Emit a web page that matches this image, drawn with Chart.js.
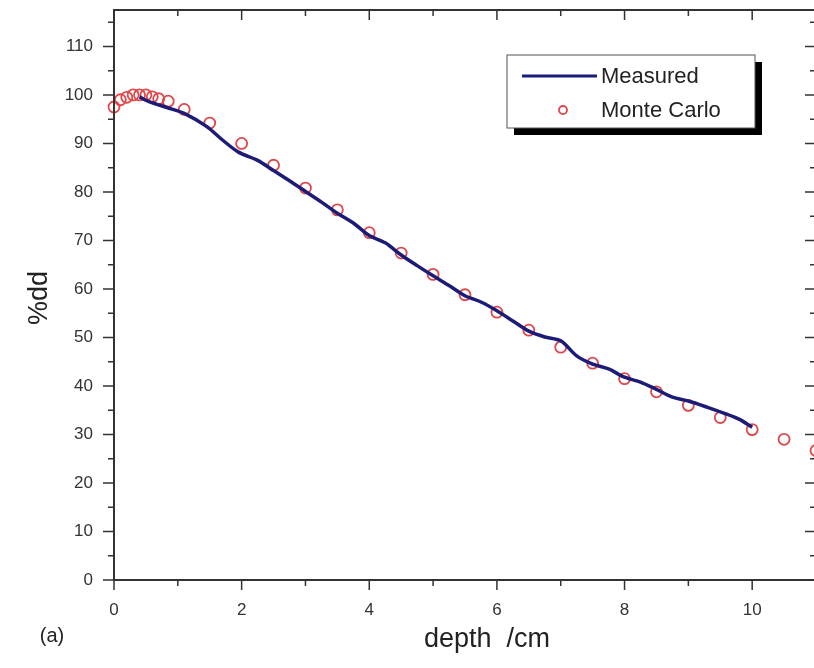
<!DOCTYPE html>
<html>
<head>
<meta charset="utf-8">
<script src="https://cdn.jsdelivr.net/npm/chart.js@4"></script>
<style>
  html, body { margin: 0; padding: 0; background: #fff; overflow: hidden; }
  #wrap { width: 814px; height: 668px; overflow: hidden; }
</style>
</head>
<body>
<div id="wrap"><canvas id="myChart" width="830" height="668"></canvas></div>
<script>
// measured depth dose curve
const measuredDepth = [0.4, 0.55, 0.83, 1.1, 1.45, 1.7, 1.95, 2.25, 2.5, 2.75, 3.0, 3.25, 3.5, 3.75, 4.0, 4.25, 4.5, 4.75, 5.0, 5.25, 5.5, 5.75, 6.0, 6.25, 6.5, 6.75, 7.0, 7.25, 7.5, 7.75, 8.0, 8.25, 8.5, 8.75, 9.0, 9.3, 9.6, 9.8, 10.0]
const measuredDose = [99.6, 98.6, 97.4, 96.2, 93.5, 90.7, 88.2, 86.5, 84.4, 82.3, 80.1, 77.9, 75.6, 73.6, 71.0, 69.5, 67.0, 64.8, 62.7, 60.7, 58.6, 57.3, 55.5, 53.4, 51.3, 50.1, 49.3, 46.2, 44.5, 43.5, 41.8, 40.8, 39.3, 37.7, 36.9, 35.6, 34.2, 33.1, 31.5]

// monte carlo points
const mcDepth = [0, 0.1, 0.2, 0.3, 0.4, 0.5, 0.6, 0.7, 0.85, 1.1, 1.5, 2, 2.5, 3, 3.5, 4, 4.5, 5, 5.5, 6, 6.5, 7, 7.5, 8, 8.5, 9, 9.5, 10, 10.5, 11]
const mcDose = [97.5, 99, 99.5, 100, 100, 100, 99.6, 99.2, 98.7, 97, 94.2, 90, 85.5, 80.8, 76.3, 71.6, 67.4, 63, 58.8, 55.2, 51.5, 48, 44.7, 41.5, 38.8, 36, 33.5, 31, 29, 26.7]

const xTicks = [0, 2, 4, 6, 8, 10]
const yTicks = [0, 10, 20, 30, 40, 50, 60, 70, 80, 90, 100, 110]

const navy = '#1c1c78'
const red = '#e0474a'
const font = '"Liberation Sans", Arial, sans-serif'

const frame = {
  id: 'frame',
  afterDraw(chart) {
    const c = chart.ctx
    const a = chart.chartArea
    const x = chart.scales.x
    const y = chart.scales.y
    c.save()
    c.strokeStyle = '#333'
    c.lineWidth = 2
    c.strokeRect(a.left, a.top, a.right - a.left, a.bottom - a.top)
    c.lineWidth = 1.5
    // x ticks every 1
    for (let v = 0; v <= 11; v++) {
      const px = x.getPixelForValue(v)
      const len = v % 2 === 0 ? 10 : 6
      c.beginPath()
      c.moveTo(px, a.bottom); c.lineTo(px, a.bottom + len)
      c.moveTo(px, a.top); c.lineTo(px, a.top + len)
      c.stroke()
    }
    // y ticks every 5
    for (let v = 0; v <= 115; v += 5) {
      const py = y.getPixelForValue(v)
      const len = v % 10 === 0 ? 11 : 6
      c.beginPath()
      c.moveTo(a.left, py); c.lineTo(a.left - len, py)
      c.moveTo(a.right, py); c.lineTo(a.right - len, py)
      c.stroke()
    }
    // axis titles
    c.fillStyle = '#222'
    c.font = '27px ' + font
    c.textAlign = 'center'
    c.textBaseline = 'middle'
    c.fillText('depth  /cm', 487, 640)
    c.font = '20px ' + font
    c.fillText('(a)', 52, 636)
    c.save()
    c.translate(40, 298)
    c.rotate(-Math.PI / 2)
    c.font = '27px ' + font
    c.fillText('%dd', 0, 0)
    c.restore()

    // legend box with shadow
    const lx = 507, ly = 55, lw = 248, lh = 73
    c.fillStyle = '#000'
    c.fillRect(lx + 7, ly + 7, lw, lh)
    c.fillStyle = '#fff'
    c.fillRect(lx, ly, lw, lh)
    c.strokeStyle = '#555'
    c.lineWidth = 1
    c.strokeRect(lx, ly, lw, lh)
    const ds = chart.data.datasets
    c.strokeStyle = ds[0].borderColor
    c.lineWidth = 3
    c.beginPath()
    c.moveTo(522, 76); c.lineTo(597, 76)
    c.stroke()
    c.strokeStyle = ds[1].borderColor
    c.lineWidth = 1.8
    c.beginPath()
    c.arc(563, 110, 4, 0, Math.PI * 2)
    c.stroke()
    c.fillStyle = '#222'
    c.font = '22px ' + font
    c.textAlign = 'left'
    c.fillText(ds[0].label, 601, 77)
    c.fillText(ds[1].label, 601, 111)
    c.restore()
  }
}

const ctx = document.getElementById('myChart')

const grafica = new Chart(ctx, {
  type: 'scatter',
  data: {
    datasets: [{
      label: 'Measured',
      data: measuredDepth.map((d, i) => ({ x: d, y: measuredDose[i] })),
      showLine: true,
      borderColor: navy,
      borderWidth: 3.5,
      pointRadius: 0,
      tension: 0.3,
      clip: false
    }, {
      label: 'Monte Carlo',
      data: mcDepth.map((d, i) => ({ x: d, y: mcDose[i] })),
      showLine: false,
      borderColor: red,
      backgroundColor: 'rgba(0,0,0,0)',
      borderWidth: 1.8,
      pointRadius: 5.5,
      clip: false
    }]
  },
  options: {
    responsive: false,
    animation: false,
    layout: { padding: { top: 10, right: 14, left: 0, bottom: 0 } },
    plugins: { legend: { display: false }, tooltip: { enabled: false } },
    scales: {
      x: {
        type: 'linear',
        min: 0,
        max: 11,
        grid: { display: false },
        border: { display: false },
        afterBuildTicks: s => { s.ticks = xTicks.map(v => ({ value: v })) },
        afterFit: s => { s.height = 88; s.paddingLeft = 0; s.paddingRight = 0 },
        ticks: { color: '#333', padding: 12, font: { size: 17, family: font }, maxRotation: 0 }
      },
      y: {
        min: 0,
        max: 117.5,
        grid: { display: false },
        border: { display: false },
        afterBuildTicks: s => { s.ticks = yTicks.map(v => ({ value: v })) },
        afterFit: s => { s.width = 114; s.paddingTop = 0; s.paddingBottom = 0 },
        ticks: { color: '#333', padding: 13, font: { size: 17, family: font } }
      }
    }
  },
  plugins: [frame]
})
</script>
</body>
</html>
